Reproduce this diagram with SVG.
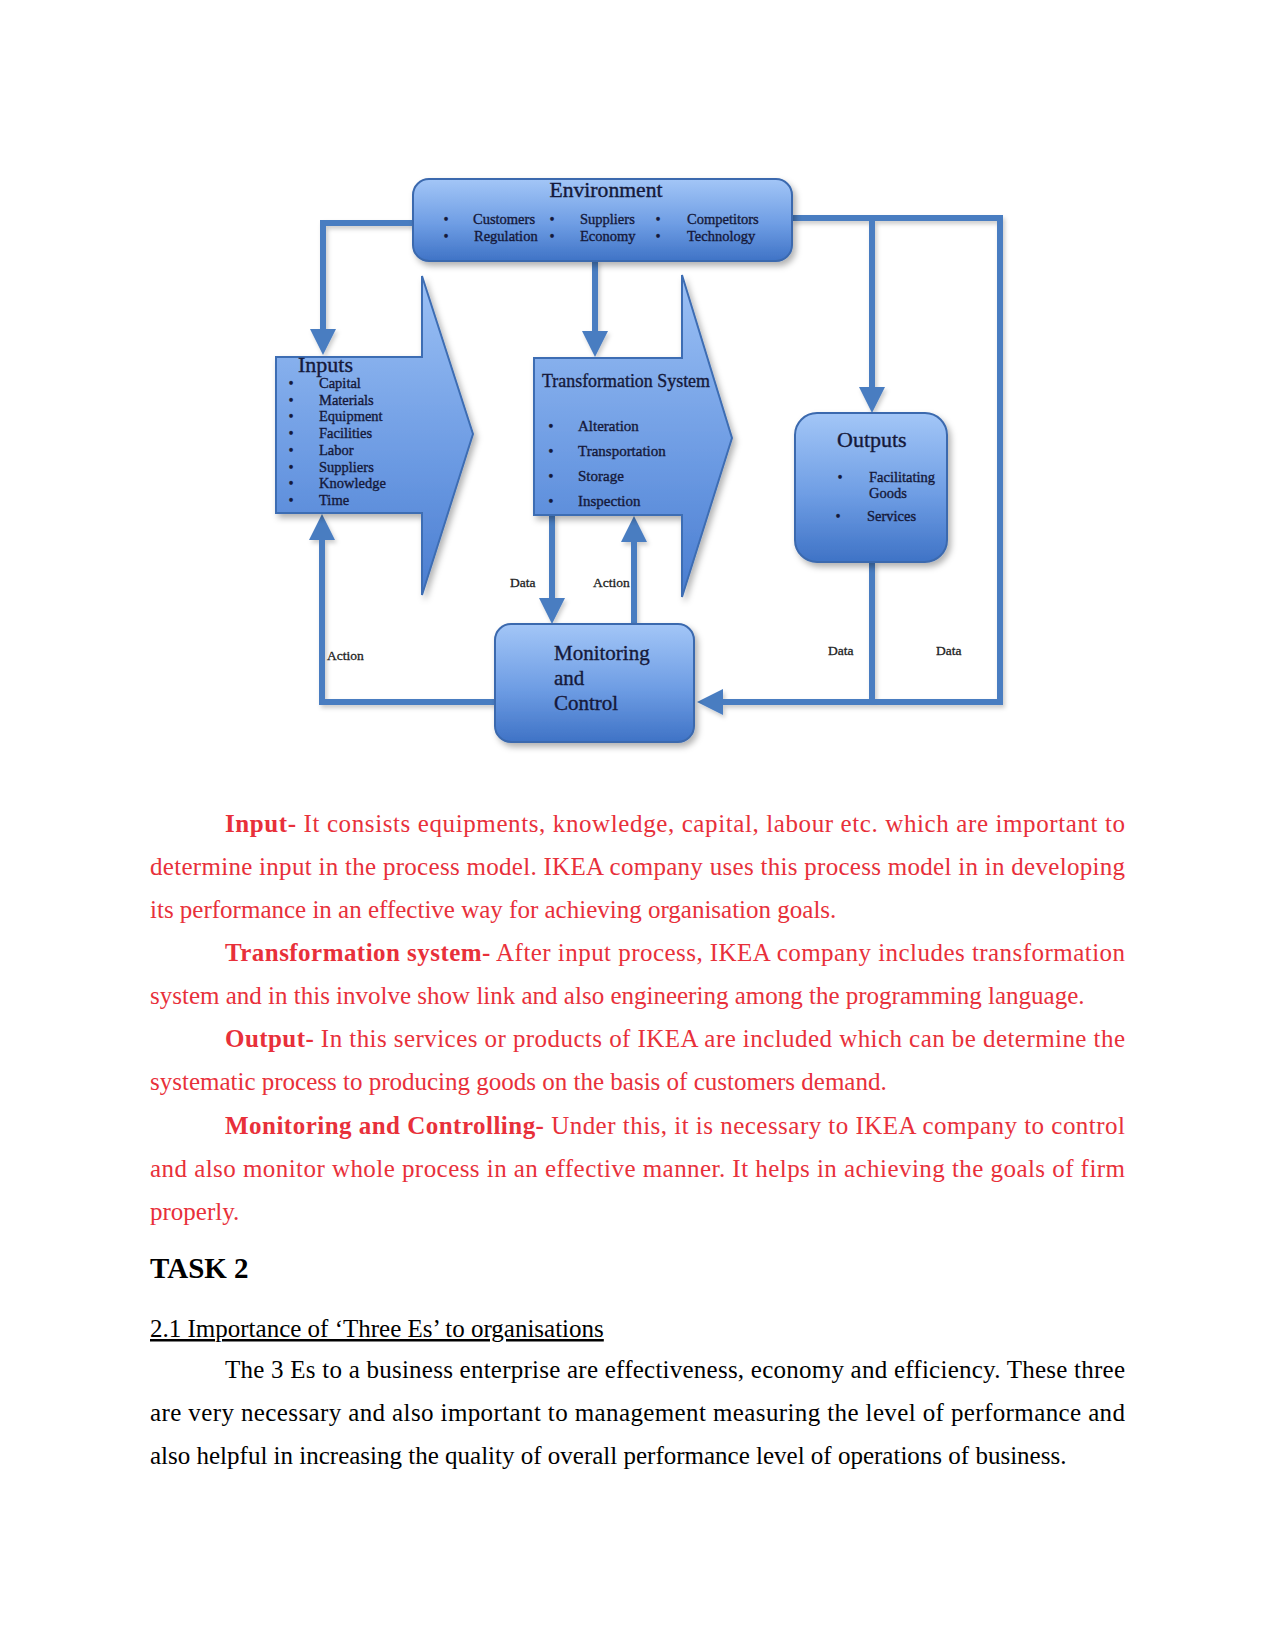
<svg xmlns="http://www.w3.org/2000/svg" width="1275" height="1650" viewBox="0 0 1275 1650">
<defs>
<linearGradient id="gBox" x1="0" y1="0" x2="0" y2="1">
<stop offset="0" stop-color="#A3C6F7"/>
<stop offset="0.55" stop-color="#6E9DE4"/>
<stop offset="1" stop-color="#3F73C6"/>
</linearGradient>
<linearGradient id="gArrow" x1="0" y1="0" x2="0" y2="1">
<stop offset="0" stop-color="#9CC1F5"/>
<stop offset="0.6" stop-color="#6A99E2"/>
<stop offset="1" stop-color="#4A7DD0"/>
</linearGradient>
<filter id="sh" x="-10%" y="-10%" width="125%" height="130%">
<feDropShadow dx="3" dy="4" stdDeviation="3" flood-color="#000" flood-opacity="0.3"/>
</filter>
<filter id="shl" x="-5%" y="-5%" width="110%" height="110%">
<feDropShadow dx="2" dy="3" stdDeviation="2" flood-color="#000" flood-opacity="0.2"/>
</filter>
<marker id="ah" markerUnits="userSpaceOnUse" viewBox="0 0 26 26" refX="20" refY="13" markerWidth="26" markerHeight="26" orient="auto">
<path d="M0,0 L26,13 L0,26 z" fill="#4A7DC1"/>
</marker>
<style>
.box{fill:url(#gBox);stroke:#3B69AE;stroke-width:2;filter:url(#sh)}
.arr{fill:url(#gArrow);stroke:#3E6DB3;stroke-width:2;filter:url(#sh)}
.con{fill:none;stroke:#4A7DC1;stroke-width:6;stroke-linejoin:miter}
.dt{font-family:"Liberation Serif","Times New Roman",serif;fill:#15193A;stroke:#15193A;stroke-width:0.35}
.t14{font-size:14.5px}
.t15{font-size:15px}
.lbl{font-family:"Liberation Serif","Times New Roman",serif;font-size:13.5px;fill:#222;stroke:#222;stroke-width:0.3}
.body{font-family:"Liberation Serif","Times New Roman",serif;font-size:25px}
.red{fill:#E8303A}
.blk{fill:#000}
.b{font-weight:bold}
</style>
</defs>
<rect width="1275" height="1650" fill="#fff"/>

<g id="connectors" filter="url(#shl)">
<path class="con" d="M414,223 H323 V349" marker-end="url(#ah)"/>
<path class="con" d="M595,260 V351" marker-end="url(#ah)"/>
<path class="con" d="M792,218 H1000 V702 H703" marker-end="url(#ah)"/>
<path class="con" d="M872,218 V407" marker-end="url(#ah)"/>
<path class="con" d="M872,562 V702"/>
<path class="con" d="M552,515 V618" marker-end="url(#ah)"/>
<path class="con" d="M634,624 V522" marker-end="url(#ah)"/>
<path class="con" d="M495,702 H322 V520" marker-end="url(#ah)"/>
</g>

<g id="environment">
<rect class="box" x="413" y="179" width="379" height="82" rx="16"/>
<text class="dt" x="606" y="197" font-size="20" text-anchor="middle" textLength="113" lengthAdjust="spacingAndGlyphs">Environment</text>
<g class="dt t14">
<text x="446" y="224" text-anchor="middle">•</text>
<text x="446" y="241" text-anchor="middle">•</text>
<text x="473" y="224">Customers</text>
<text x="474" y="241">Regulation</text>
<text x="552" y="224" text-anchor="middle">•</text>
<text x="552" y="241" text-anchor="middle">•</text>
<text x="580" y="224">Suppliers</text>
<text x="580" y="241">Economy</text>
<text x="658" y="224" text-anchor="middle">•</text>
<text x="658" y="241" text-anchor="middle">•</text>
<text x="687" y="224">Competitors</text>
<text x="687" y="241">Technology</text>
</g>
</g>

<g id="inputs">
<polygon class="arr" points="276,357 422,357 422,276 473,434 422,595 422,513 276,513"/>
<text class="dt" x="298" y="372" font-size="22">Inputs</text>
<g class="dt t14">
<text x="291" y="388" text-anchor="middle">•</text><text x="319" y="388">Capital</text>
<text x="291" y="404.7" text-anchor="middle">•</text><text x="319" y="404.7">Materials</text>
<text x="291" y="421.4" text-anchor="middle">•</text><text x="319" y="421.4">Equipment</text>
<text x="291" y="438.1" text-anchor="middle">•</text><text x="319" y="438.1">Facilities</text>
<text x="291" y="454.8" text-anchor="middle">•</text><text x="319" y="454.8">Labor</text>
<text x="291" y="471.5" text-anchor="middle">•</text><text x="319" y="471.5">Suppliers</text>
<text x="291" y="488.2" text-anchor="middle">•</text><text x="319" y="488.2">Knowledge</text>
<text x="291" y="504.9" text-anchor="middle">•</text><text x="319" y="504.9">Time</text>
</g>
</g>

<g id="transformation">
<polygon class="arr" points="534,358 682,358 682,275 732,438 682,597 682,515 534,515"/>
<text class="dt" x="542" y="387" font-size="18" textLength="168" lengthAdjust="spacingAndGlyphs">Transformation System</text>
<g class="dt t15">
<text x="551" y="431" text-anchor="middle">•</text><text x="578" y="431">Alteration</text>
<text x="551" y="456" text-anchor="middle">•</text><text x="578" y="456">Transportation</text>
<text x="551" y="481" text-anchor="middle">•</text><text x="578" y="481">Storage</text>
<text x="551" y="506" text-anchor="middle">•</text><text x="578" y="506">Inspection</text>
</g>
</g>

<g id="outputs">
<rect class="box" x="795" y="413" width="152" height="149" rx="22"/>
<text class="dt" x="837" y="447" font-size="22">Outputs</text>
<g class="dt t14">
<text x="840" y="482" text-anchor="middle">•</text>
<text x="869" y="482">Facilitating</text>
<text x="869" y="498">Goods</text>
<text x="838" y="521" text-anchor="middle">•</text>
<text x="867" y="521">Services</text>
</g>
</g>

<g id="monitoring">
<rect class="box" x="495" y="624" width="199" height="118" rx="16"/>
<g class="dt" font-size="21">
<text x="554" y="660">Monitoring</text>
<text x="554" y="685">and</text>
<text x="554" y="710">Control</text>
</g>
</g>

<g id="labels">
<text class="lbl" x="510" y="587">Data</text>
<text class="lbl" x="593" y="587">Action</text>
<text class="lbl" x="327" y="660">Action</text>
<text class="lbl" x="828" y="655">Data</text>
<text class="lbl" x="936" y="655">Data</text>
</g>

<g id="text" class="body">
<text class="red" x="225" y="832" textLength="900" lengthAdjust="spacing"><tspan class="b">Input-</tspan> It consists equipments, knowledge, capital, labour etc. which are important to</text>
<text class="red" x="150" y="875" textLength="975" lengthAdjust="spacing">determine input in the process model. IKEA company uses this process model in in developing</text>
<text class="red" x="150" y="918">its performance in an effective way for achieving organisation goals.</text>
<text class="red" x="225" y="961" textLength="900" lengthAdjust="spacing"><tspan class="b">Transformation system-</tspan> After input process, IKEA company includes transformation</text>
<text class="red" x="150" y="1004">system and in this involve show link and also engineering among the programming language.</text>
<text class="red" x="225" y="1047" textLength="900" lengthAdjust="spacing"><tspan class="b">Output-</tspan> In this services or products of IKEA are included which can be determine the</text>
<text class="red" x="150" y="1090">systematic process to producing goods on the basis of customers demand.</text>
<text class="red" x="225" y="1134" textLength="900" lengthAdjust="spacing"><tspan class="b">Monitoring and Controlling-</tspan> Under this, it is necessary to IKEA company to control</text>
<text class="red" x="150" y="1177" textLength="975" lengthAdjust="spacing">and also monitor whole process in an effective manner. It helps in achieving the goals of firm</text>
<text class="red" x="150" y="1220">properly.</text>
<text class="blk b" x="150" y="1278" font-size="29">TASK 2</text>
<text class="blk" x="150" y="1337" text-decoration="underline">2.1 Importance of ‘Three Es’ to organisations</text>
<text class="blk" x="225" y="1378" textLength="900" lengthAdjust="spacing">The 3 Es to a business enterprise are effectiveness, economy and efficiency. These three</text>
<text class="blk" x="150" y="1421" textLength="975" lengthAdjust="spacing">are very necessary and also important to management measuring the level of performance and</text>
<text class="blk" x="150" y="1464">also helpful in increasing the quality of overall performance level of operations of business.</text>
</g>
</svg>
